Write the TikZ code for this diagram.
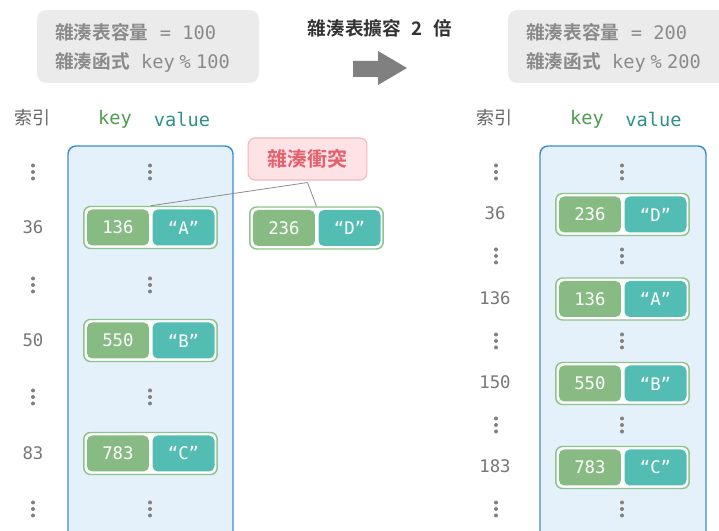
\documentclass[tikz,border=0pt]{standalone}
\usepackage{fontspec}
\newfontfamily\cjkfont{Noto Sans CJK TC}[BoldFont={Noto Sans CJK TC Bold}]
\newfontfamily\monofont{DejaVu Sans Mono}
\usetikzlibrary{positioning}
\definecolor{keygreen}{HTML}{87BB83}
\definecolor{valteal}{HTML}{53BCB3}
\definecolor{pairedge}{HTML}{8DC48B}
\definecolor{colblue}{HTML}{3C8ED3}
\definecolor{colfill}{HTML}{E4F0FA}
\definecolor{infogray}{HTML}{EBEBEB}
\definecolor{infotext}{HTML}{8A8A8A}
\definecolor{idxgray}{HTML}{777777}
\definecolor{dotgray}{HTML}{808080}
\definecolor{clashfill}{HTML}{FDE3E5}
\definecolor{clashedge}{HTML}{F5B5BB}
\definecolor{clashred}{HTML}{E5606C}
\definecolor{headgreen}{HTML}{4E9C50}
\definecolor{headteal}{HTML}{2E9089}
\definecolor{titlegray}{HTML}{333333}
\definecolor{linkgray}{HTML}{8C8C8C}

\tikzset{
  keybox/.style={rectangle, rounded corners=4pt, fill=keygreen, minimum width=46.5pt, minimum height=27pt, inner sep=0pt, text=white, font=\monofont\fontsize{13}{15}\selectfont},
  valbox/.style={keybox, fill=valteal},
  pairbox/.style={rectangle, rounded corners=5pt, draw=pairedge, line width=1.1pt, fill=white, minimum width=100pt, minimum height=31.5pt, inner sep=0pt},
  infobox/.style={rectangle, rounded corners=7pt, fill=infogray, inner sep=0pt},
  infoline/.style={anchor=west, inner sep=0pt, text=infotext, font=\monofont\fontsize{14}{16}\selectfont},
  idxlabel/.style={text=idxgray, font=\monofont\fontsize{13}{15}\selectfont},
  idxhead/.style={text=idxgray!85!black, font=\cjkfont\fontsize{13.5}{15}\selectfont},
  colhead/.style={font=\monofont\fontsize{14}{16}\selectfont},
  clashbox/.style={rectangle, rounded corners=5pt, draw=clashedge, line width=0.8pt, fill=clashfill, minimum width=89pt, minimum height=31.5pt, text=clashred, font=\cjkfont\bfseries\fontsize{15}{17}\selectfont},
  threedots/.pic={\foreach \d in {-6.5,0,6.5} \fill[dotgray] (0,\d) circle (1.5pt);}
}

% one key-value pair: name, centre x, centre y, key, value
\newcommand{\kvpair}[5]{%
  \node[pairbox] (#1) at (#2,#3) {};
  \node[keybox, xshift=-24.4pt] (#1k) at (#1.center) {#4};
  \node[valbox, right=2.25pt of #1k] (#1v) {“#5”};
}

\begin{document}
\begin{tikzpicture}[x=0.75pt, y=-0.75pt]
\useasboundingbox (0,0) rectangle (719,531);
\clip (0,0) rectangle (719,531);

% Capacity boxes
\node[infobox, minimum width=166.5pt, minimum height=54.75pt] (oldcfg) at (148,46.5) {};
\node[infoline] (oldcap) at (55,32) {{\cjkfont\bfseries 雜湊表容量} = 100};
\node[infoline] (oldhash) at (55,62) {{\cjkfont\bfseries 雜湊函式} key\hspace{3.5pt}\%\hspace{4pt}100};
\node[infobox, minimum width=174pt, minimum height=54.75pt] (newcfg) at (624,46.5) {};
\node[infoline] (newcap) at (526,32) {{\cjkfont\bfseries 雜湊表容量} = 200};
\node[infoline] (newhash) at (526,62) {{\cjkfont\bfseries 雜湊函式} key\hspace{3.5pt}\%\hspace{4pt}200};

% Title and arrow
\node[text=titlegray, font=\cjkfont\bfseries\fontsize{14}{16}\selectfont] (title) at (380,28) {雜湊表擴容\hspace{8pt}2\hspace{8pt}倍};
\fill[dotgray] (353,61) -- (378,61) -- (378,51) -- (407,68) -- (378,85) -- (378,77) -- (353,77) -- cycle;

% Headers
\node[idxhead] (idxL) at (32,118) {索引};
\node[colhead, text=headgreen] (keyL) at (115,119) {key};
\node[colhead, text=headteal] (valL) at (182,119) {value};
\node[idxhead] (idxR) at (494,118) {索引};
\node[colhead, text=headgreen] (keyR) at (587,119) {key};
\node[colhead, text=headteal] (valR) at (653.5,119) {value};

% Bucket columns
\draw[colblue, fill=colfill, line width=1.1pt, rounded corners=6pt] (68,560) -- (68,146) -- (233,146) -- (233,560);
\draw[colblue, fill=colfill, line width=1.1pt, rounded corners=6pt] (540,560) -- (540,146) -- (706,146) -- (706,560);

% Old table
\foreach \y in {172,285,397,509} {
  \pic at (33,\y) {threedots};
  \pic at (150,\y) {threedots};
}
\foreach \y/\i in {227/36, 340/50, 453/83}
  \node[idxlabel] (oi\i) at (33,\y) {\i};
\kvpair{pa}{150.5}{227.5}{136}{A}
\kvpair{pb}{150.5}{340.5}{550}{B}
\kvpair{pc}{150.5}{453.5}{783}{C}

% Collision
\node[clashbox] (clash) at (307.5,159) {雜湊衝突};
\coordinate (clashfoot) at ([yshift=-1.5pt]clash.south);
\draw[linkgray, line width=0.6pt] (pa.north) -- (clashfoot);
\kvpair{pd}{316.5}{228}{236}{D}
\draw[linkgray, line width=0.6pt] (clashfoot) -- (pd.north);

% New table
\foreach \y in {172,256,341,425,509} {
  \pic at (496,\y) {threedots};
  \pic at (622,\y) {threedots};
}
\foreach \y/\i in {213/36, 298/136, 382/150, 466/183}
  \node[idxlabel] (ni\i) at (495,\y) {\i};
\kvpair{qd}{622.5}{214.5}{236}{D}
\kvpair{qa}{622.5}{299}{136}{A}
\kvpair{qb}{622.5}{383.5}{550}{B}
\kvpair{qc}{622.5}{467.5}{783}{C}
\end{tikzpicture}
\end{document}
